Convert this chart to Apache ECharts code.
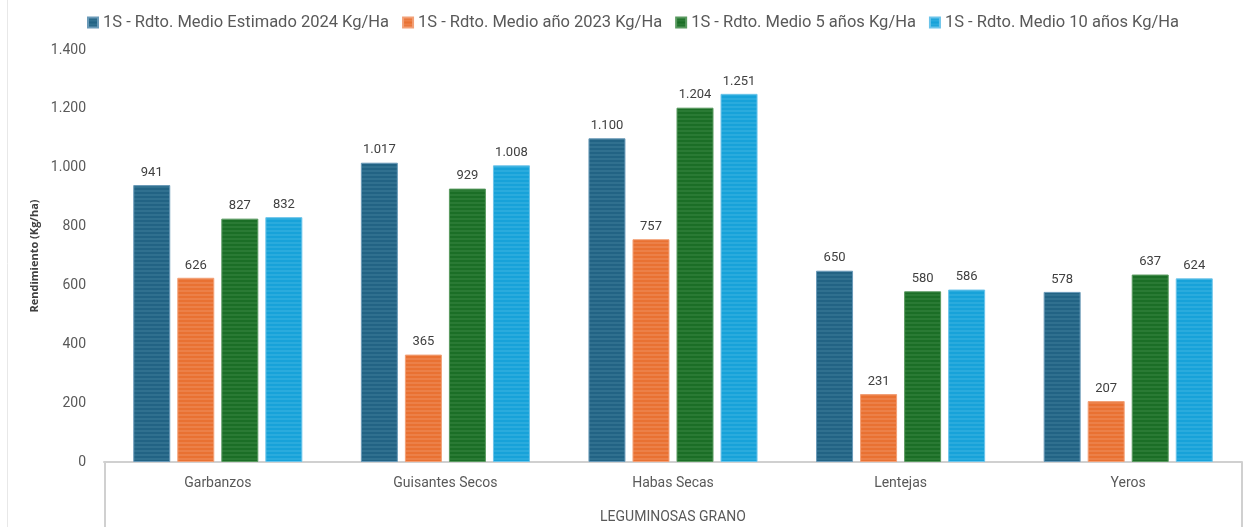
<!DOCTYPE html>
<html><head><meta charset="utf-8">
<script src="https://cdn.jsdelivr.net/npm/echarts@6/dist/echarts.min.js"></script>
<style>html,body{margin:0;padding:0;background:#fff}#c{width:1250px;height:527px}</style>
</head><body><div id="c"></div>
<script>
const categories = ['Garbanzos','Guisantes Secos','Habas Secas','Lentejas','Yeros'];
const seriesNames = ['1S - Rdto. Medio Estimado 2024 Kg/Ha','1S - Rdto. Medio año 2023 Kg/Ha','1S - Rdto. Medio 5 años Kg/Ha','1S - Rdto. Medio 10 años Kg/Ha'];
const est2024 = [941,1017,1100,650,578];
const y2023 = [626,365,757,231,207];
const avg5 = [827,929,1204,580,637];
const avg10 = [832,1008,1251,586,624];
const yTicks = [0,200,400,600,800,1000,1200,1400];

function stripe(dark, light){
  const c = document.createElement('canvas');
  c.width = 8; c.height = 4;
  const g = c.getContext('2d');
  g.fillStyle = dark; g.fillRect(0,0,8,4);
  g.fillStyle = light; g.fillRect(0,2,8,2);
  return {image:c, repeat:'repeat'};
}
const palettes = [
  ['#226384','#30708F','#6A9AB8'],
  ['#E97132','#EC8048','#F2A077'],
  ['#1B6E26','#2A7A34','#5A9A60'],
  ['#17A2D9','#2AABDD','#6CC4EA']
];
const fmt = v => v.toLocaleString('de-DE');
const dataSets = [est2024,y2023,avg5,avg10];
const series = dataSets.map((d,i)=>({
  name: seriesNames[i], type:'bar', data:d, barWidth:37, barGap:'19%',
  itemStyle:{color:stripe(palettes[i][0],palettes[i][1]), borderColor:palettes[i][2], borderWidth:1},
  label:{show:true, position:'top', distance:6, color:'#404040', fontSize:13, fontFamily:'Roboto', formatter:p=>fmt(p.value)}
}));
const chart = echarts.init(document.getElementById('c'));
chart.setOption({
  animation:false,
  backgroundColor:'#fff',
  legend:{top:9, left:82, itemWidth:10, itemHeight:10, itemGap:13,
    textStyle:{color:'#595959', fontSize:16.5, fontFamily:'Roboto'}, icon:'rect'},
  grid:{left:104, right:8, top:50, bottom:65, outerBoundsMode:'none', containLabel:false},
  xAxis:{type:'category', data:categories,
    axisLine:{lineStyle:{color:'#D0D0D0', width:2}}, axisTick:{show:false},
    axisLabel:{color:'#595959', fontSize:14, fontFamily:'Roboto', margin:14},
    name:'LEGUMINOSAS GRANO', nameLocation:'middle', nameGap:48,
    nameTextStyle:{color:'#595959', fontSize:14, fontFamily:'Roboto'}},
  yAxis:{type:'value', min:yTicks[0], max:yTicks[yTicks.length-1], interval:200,
    axisLine:{show:false}, axisTick:{show:false}, splitLine:{show:false},
    axisLabel:{color:'#595959', fontSize:14, fontFamily:'Roboto', margin:18, formatter:v=>fmt(v)},
    name:'Rendimiento (Kg/ha)', nameLocation:'middle', nameGap:64,
    nameTextStyle:{color:'#404040', fontSize:11, fontWeight:'bold', fontFamily:'Open Sans'}},
  graphic:[
    {type:'line', shape:{x1:105,y1:462,x2:105,y2:527}, style:{stroke:'#D0D0D0', lineWidth:2}},
    {type:'line', shape:{x1:1242,y1:462,x2:1242,y2:527}, style:{stroke:'#D0D0D0', lineWidth:2}},
    {type:'line', shape:{x1:7.5,y1:0,x2:7.5,y2:527}, style:{stroke:'#E8E8E8', lineWidth:1}}
  ],
  series
});
</script></body></html>
